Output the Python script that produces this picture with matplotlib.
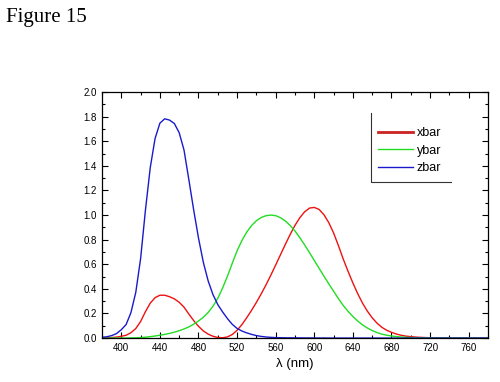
import numpy as np
import matplotlib.pyplot as plt
from matplotlib.ticker import MultipleLocator
from matplotlib.lines import Line2D

wavelength = np.arange(380, 785, 5)
xbar = [0.001368, 0.002236, 0.004243, 0.00765, 0.01431, 0.02319, 0.04351, 0.07763, 0.13438, 0.21477,
        0.2839, 0.3285, 0.34828, 0.34806, 0.3362, 0.3187, 0.2908, 0.2511, 0.19536, 0.1421,
        0.09564, 0.05795, 0.03201, 0.0147, 0.0049, 0.0024, 0.0093, 0.0291, 0.06327, 0.1096,
        0.1655, 0.22575, 0.2904, 0.3597, 0.43345, 0.51205, 0.5945, 0.6784, 0.7621, 0.8425,
        0.9163, 0.9786, 1.0263, 1.0567, 1.0622, 1.0456, 1.0026, 0.9384, 0.85445, 0.7514,
        0.6424, 0.5419, 0.4479, 0.3608, 0.2835, 0.2187, 0.1649, 0.1212, 0.0874, 0.0636,
        0.04677, 0.0329, 0.0227, 0.01584, 0.011359, 0.008111, 0.00579, 0.004109, 0.002899, 0.002049,
        0.00144, 0.001, 0.00069, 0.000476, 0.000332, 0.000235, 0.000166, 0.000117, 0.000083, 0.000059,
        0.000042]
ybar = [0.000039, 0.000064, 0.00012, 0.000217, 0.000396, 0.00064, 0.00121, 0.00218, 0.004, 0.0073,
        0.0116, 0.01684, 0.023, 0.0298, 0.038, 0.048, 0.06, 0.0739, 0.09098, 0.1126,
        0.13902, 0.1693, 0.20802, 0.2586, 0.323, 0.4073, 0.503, 0.6082, 0.71, 0.7932,
        0.862, 0.91485, 0.954, 0.9803, 0.99495, 1.0, 0.995, 0.9786, 0.952, 0.9154,
        0.87, 0.8163, 0.757, 0.6949, 0.631, 0.5668, 0.503, 0.4412, 0.381, 0.321,
        0.265, 0.217, 0.175, 0.1382, 0.107, 0.0816, 0.061, 0.04458, 0.032, 0.0232,
        0.017, 0.01192, 0.00821, 0.005723, 0.004102, 0.002929, 0.002091, 0.001484, 0.001047, 0.00074,
        0.00052, 0.000361, 0.000249, 0.000172, 0.00012, 0.000085, 0.00006, 0.000042, 0.00003, 0.000021,
        0.000015]
zbar = [0.00645, 0.01055, 0.02005, 0.03621, 0.06785, 0.1102, 0.2074, 0.3713, 0.6456, 1.03905,
        1.3856, 1.62296, 1.74706, 1.7826, 1.77211, 1.7441, 1.6692, 1.5281, 1.28764, 1.0419,
        0.81295, 0.6162, 0.46518, 0.3533, 0.272, 0.2123, 0.1582, 0.1117, 0.07825, 0.05725,
        0.04216, 0.02984, 0.0203, 0.0134, 0.00875, 0.00575, 0.0039, 0.00275, 0.0021, 0.0018,
        0.00165, 0.0014, 0.0011, 0.001, 0.0008, 0.0006, 0.00034, 0.00024, 0.00019, 0.0001,
        0.00005, 0.00003, 0.00002, 0.00001, 0.0, 0.0, 0.0, 0.0, 0.0, 0.0,
        0.0, 0.0, 0.0, 0.0, 0.0, 0.0, 0.0, 0.0, 0.0, 0.0,
        0.0, 0.0, 0.0, 0.0, 0.0, 0.0, 0.0, 0.0, 0.0, 0.0,
        0.0]

plt.rcParams['font.family'] = ['Liberation Sans', 'DejaVu Sans']

fig = plt.figure(figsize=(5, 3.82), dpi=100)
fig.text(0.012, 0.955, 'Figure 15', family='Liberation Serif', fontsize=15, va='center')

ax = fig.add_axes([0.204, 0.115, 0.772, 0.644])
ax.plot(wavelength, xbar, color='#ee1111', lw=1, label='xbar')
ax.plot(wavelength, ybar, color='#22dd22', lw=1, label='ybar')
ax.plot(wavelength, zbar, color='#1a1acc', lw=1, label='zbar')

ax.set_xlim(380, 780)
ax.set_ylim(0, 2.0)
ax.xaxis.set_minor_locator(MultipleLocator(20))
ax.yaxis.set_major_locator(MultipleLocator(0.2))
ax.yaxis.set_minor_locator(MultipleLocator(0.1))
ax.set_xticks(np.arange(400, 780, 40))
ax.xaxis.set_major_formatter(plt.FuncFormatter(lambda v, p: '%d' % v))
ax.yaxis.set_major_formatter(plt.FuncFormatter(lambda v, p: '%.1f' % v))
ax.tick_params(which='both', direction='in', top=True, right=True, labelsize=7, width=0.8)
ax.tick_params(which='major', length=4)
ax.tick_params(which='minor', length=2)
for s in ax.spines.values():
    s.set_linewidth(0.9)
ax.set_xlabel('λ (nm)', fontsize=9.5, labelpad=4)

handles = [Line2D([], [], color='#cc2222', lw=2),
           Line2D([], [], color='#22dd22', lw=1),
           Line2D([], [], color='#1a1acc', lw=1)]
ax.legend(handles, ['xbar', 'ybar', 'zbar'], loc='upper left', bbox_to_anchor=(0.702, 0.878),
          frameon=False, fontsize=9, handlelength=2.8, handletextpad=0.3,
          labelspacing=0.44, borderaxespad=0)
ax.plot([0.697, 0.697, 0.904], [0.915, 0.634, 0.634], color='#333333', lw=0.8,
        transform=ax.transAxes, clip_on=False)

fig.savefig('out.png', dpi=100)
